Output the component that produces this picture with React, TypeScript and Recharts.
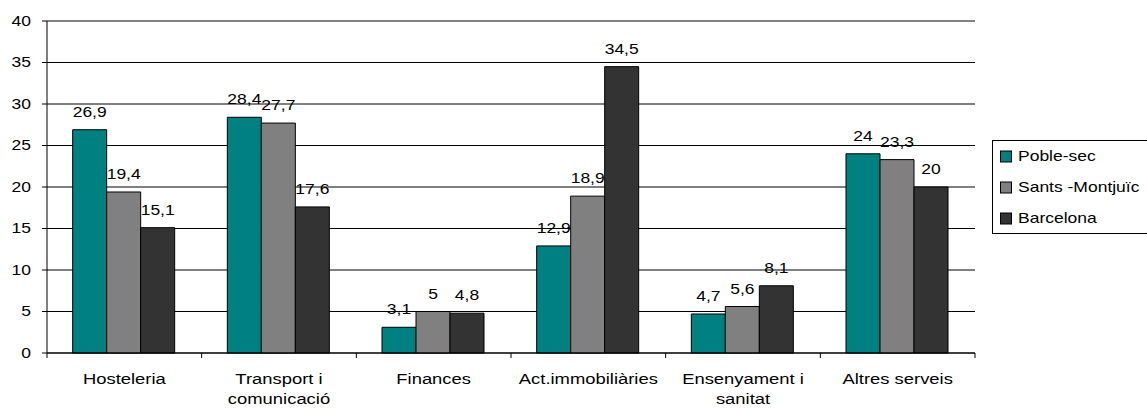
import React from 'react';
import { BarChart, Bar, XAxis, YAxis, CartesianGrid, LabelList, Legend, ReferenceLine } from 'recharts';

const categories: string[][] = [
  ['Hosteleria'],
  ['Transport i', 'comunicació'],
  ['Finances'],
  ['Act.immobiliàries'],
  ['Ensenyament i', 'sanitat'],
  ['Altres serveis'],
];
const pobleSec = [26.9, 28.4, 3.1, 12.9, 4.7, 24];
const santsMontjuic = [19.4, 27.7, 5, 18.9, 5.6, 23.3];
const barcelona = [15.1, 17.6, 4.8, 34.5, 8.1, 20];
const seriesNames = ['Poble-sec', 'Sants -Montjuïc', 'Barcelona'];
const seriesColors = ['#008080', '#808080', '#333333'];
const yTicks = [0, 5, 10, 15, 20, 25, 30, 35, 40];

const data = categories.map((c, i) => ({
  name: c.join(' '),
  lines: c,
  s0: pobleSec[i],
  s1: santsMontjuic[i],
  s2: barcelona[i],
}));

const SX = 1.25;
const FONT = '"Liberation Sans", Arial, sans-serif';

const YTick = (props: any) => {
  const { x, y, payload } = props;
  return (
    <text transform={`translate(${x},${y}) scale(${SX},1)`} textAnchor="end" dy="0.355em" fontSize={14} fontFamily={FONT} fill="#000">
      {payload.value}
    </text>
  );
};

const XTick = (props: any) => {
  const { x, y, payload, index } = props;
  const half = payload.offset ?? 77.33;
  const axisY = y - 5;
  const d = data[payload.index ?? index];
  const lines: string[] = d ? d.lines : [String(payload.value)];
  const isLast = (payload.index ?? index) === data.length - 1;
  return (
    <g>
      <line x1={x - half} x2={x - half} y1={axisY} y2={axisY + 5} stroke="#000" />
      {isLast && <line x1={x + half} x2={x + half} y1={axisY} y2={axisY + 5} stroke="#000" />}
      {lines.map((t, k) => (
        <text key={k} transform={`translate(${x},${axisY + 31 + k * 20}) scale(1.27,1)`} textAnchor="middle" fontSize={14.5} fontFamily={FONT} fill="#000">
          {t}
        </text>
      ))}
    </g>
  );
};

const ValueLabel = (props: any) => {
  const { x, y, width, value } = props;
  return (
    <text transform={`translate(${Number(x) + Number(width) / 2},${Number(y) - 13}) scale(${SX},1)`} textAnchor="middle" fontSize={14} fontFamily={FONT} fill="#000">
      {String(value).replace('.', ',')}
    </text>
  );
};

const LegendContent = () => (
  <svg width={158} height={92} style={{ display: 'block' }}>
    {seriesNames.map((n, i) => {
      const cy = 15.5 + i * 31;
      return (
        <g key={n}>
          <rect x={7.5} y={cy - 5.5} width={11} height={11} fill={seriesColors[i]} stroke="#000" />
          <text transform={`translate(25,${cy}) scale(${SX},1)`} dy="0.355em" fontSize={14} fontFamily={FONT} fill="#000">
            {n}
          </text>
        </g>
      );
    })}
  </svg>
);

export default function App() {
  return (
    <div style={{ position: 'absolute', left: 0, top: 0, width: 1147, height: 410, overflow: 'hidden', background: '#fff', fontFamily: FONT }}>
      <BarChart
        width={1147}
        height={410}
        data={data}
        margin={{ top: 21, right: 172, bottom: 0, left: 0 }}
        barCategoryGap="16.6%"
        barGap={0}
      >
        <CartesianGrid horizontal vertical={false} stroke="#000" />
        <XAxis dataKey="name" height={57} tickLine={false} tickSize={5} tickMargin={0} axisLine={{ stroke: '#000' }} tick={<XTick />} interval={0} />
        <YAxis domain={[0, 40]} ticks={yTicks} interval={0} width={47} tickSize={5} tickMargin={11} axisLine={{ stroke: '#000' }} tickLine={{ stroke: '#000' }} tick={<YTick />} />
        <YAxis yAxisId="r" orientation="right" domain={[0, 40]} width={0} tick={false} tickLine={false} axisLine={{ stroke: '#808080' }} />
        <ReferenceLine y={40} stroke="#808080" />
        <Legend
          layout="vertical"
          align="center"
          verticalAlign="middle"
          content={<LegendContent />}
          wrapperStyle={{ position: 'absolute', left: 992, top: 140, width: 160, height: 94, border: '1px solid #000', boxSizing: 'border-box', background: '#fff' }}
        />
        <Bar dataKey="s0" name={seriesNames[0]} fill={seriesColors[0]} stroke="#000" isAnimationActive={false}>
          <LabelList dataKey="s0" content={<ValueLabel />} />
        </Bar>
        <Bar dataKey="s1" name={seriesNames[1]} fill={seriesColors[1]} stroke="#000" isAnimationActive={false}>
          <LabelList dataKey="s1" content={<ValueLabel />} />
        </Bar>
        <Bar dataKey="s2" name={seriesNames[2]} fill={seriesColors[2]} stroke="#000" isAnimationActive={false}>
          <LabelList dataKey="s2" content={<ValueLabel />} />
        </Bar>
      </BarChart>
    </div>
  );
}
